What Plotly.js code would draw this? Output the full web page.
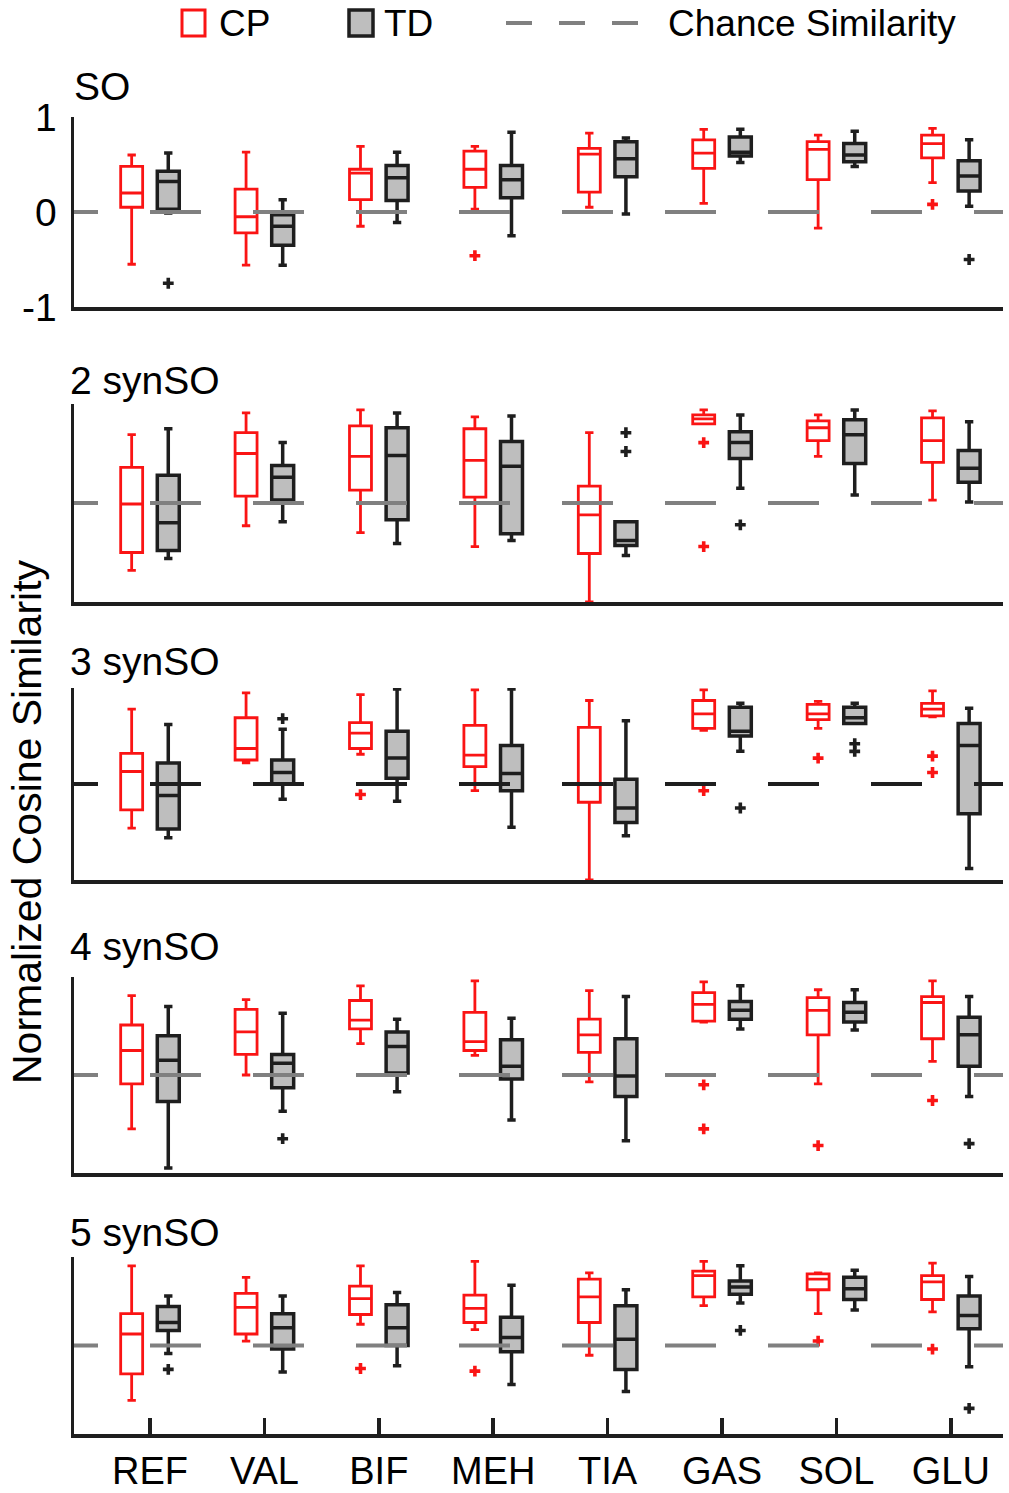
<!DOCTYPE html>
<html>
<head>
<meta charset="utf-8">
<script src="https://cdn.plot.ly/plotly-3.0.1.min.js"></script>
<style>
  html, body { margin: 0; padding: 0; background: #fff; }
  #chart { width: 1009px; height: 1493px; }
</style>
</head>
<body>
<div id="chart"></div>
<script>
// categories and panel names
const muscles = ['REF', 'VAL', 'BIF', 'MEH', 'TIA', 'GAS', 'SOL', 'GLU'];
const panelTitles = ['SO', '2 synSO', '3 synSO', '4 synSO', '5 synSO'];
const chanceLevel = 0;

// box stats per panel, rows: lower whisker, q1, median, q3, upper whisker
const cpSO = [
    [-0.55, -0.56, -0.15, 0.03, 0.05, 0.09, -0.17, 0.31],
    [0.05, -0.22, 0.13, 0.26, 0.21, 0.46, 0.34, 0.57],
    [0.20, -0.05, 0.41, 0.45, 0.61, 0.62, 0.66, 0.72],
    [0.48, 0.24, 0.45, 0.64, 0.67, 0.76, 0.74, 0.81],
    [0.60, 0.63, 0.69, 0.69, 0.83, 0.87, 0.81, 0.88]
];
const tdSO = [
    [-0.01, -0.56, -0.11, -0.25, -0.02, 0.52, 0.48, 0.06],
    [0.03, -0.35, 0.12, 0.15, 0.37, 0.59, 0.53, 0.22],
    [0.32, -0.15, 0.36, 0.34, 0.56, 0.63, 0.60, 0.38],
    [0.43, -0.03, 0.49, 0.49, 0.74, 0.79, 0.72, 0.54],
    [0.62, 0.13, 0.63, 0.84, 0.78, 0.87, 0.85, 0.76]
];
const cpSyn2 = [
    [-0.68, -0.23, -0.30, -0.44, -1.00, 0.80, 0.47, 0.03],
    [-0.50, 0.07, 0.13, 0.06, -0.51, 0.80, 0.63, 0.41],
    [-0.01, 0.50, 0.47, 0.43, -0.12, 0.85, 0.76, 0.63],
    [0.36, 0.71, 0.78, 0.75, 0.17, 0.89, 0.83, 0.86],
    [0.69, 0.91, 0.94, 0.87, 0.71, 0.94, 0.89, 0.93]
];
const tdSyn2 = [
    [-0.56, -0.19, -0.41, -0.38, -0.53, 0.15, 0.08, 0.01],
    [-0.48, 0.03, -0.17, -0.31, -0.43, 0.45, 0.40, 0.21],
    [-0.20, 0.26, 0.48, 0.37, -0.38, 0.61, 0.69, 0.35],
    [0.28, 0.38, 0.76, 0.62, -0.19, 0.72, 0.84, 0.53],
    [0.75, 0.61, 0.91, 0.88, -0.19, 0.89, 0.94, 0.82]
];
const cpSyn3 = [
    [-0.46, 0.22, 0.31, -0.07, -1.00, 0.56, 0.58, 0.70],
    [-0.27, 0.25, 0.37, 0.18, -0.19, 0.58, 0.67, 0.71],
    [0.13, 0.37, 0.53, 0.30, 0.00, 0.73, 0.73, 0.78],
    [0.32, 0.69, 0.64, 0.61, 0.59, 0.87, 0.83, 0.84],
    [0.78, 0.95, 0.93, 0.98, 0.87, 0.98, 0.86, 0.97]
];
const tdSyn3 = [
    [-0.56, -0.16, -0.18, -0.45, -0.54, 0.34, 0.63, -0.88],
    [-0.47, 0.00, 0.06, -0.07, -0.40, 0.50, 0.63, -0.31],
    [-0.12, 0.12, 0.27, 0.11, -0.25, 0.55, 0.69, 0.40],
    [0.22, 0.25, 0.55, 0.40, 0.05, 0.80, 0.80, 0.63],
    [0.62, 0.57, 0.99, 0.99, 0.66, 0.84, 0.84, 0.79]
];
const cpSyn4 = [
    [-0.55, 0.00, 0.32, 0.20, -0.07, 0.54, -0.09, 0.14],
    [-0.09, 0.21, 0.47, 0.25, 0.23, 0.55, 0.41, 0.37],
    [0.25, 0.44, 0.56, 0.34, 0.41, 0.72, 0.66, 0.74],
    [0.51, 0.67, 0.76, 0.64, 0.57, 0.84, 0.79, 0.80],
    [0.81, 0.77, 0.91, 0.96, 0.86, 0.95, 0.87, 0.96]
];
const tdSyn4 = [
    [-0.95, -0.37, -0.17, -0.46, -0.67, 0.47, 0.46, -0.22],
    [-0.27, -0.13, 0.02, -0.04, -0.22, 0.57, 0.54, 0.09],
    [0.15, 0.12, 0.29, 0.09, -0.01, 0.66, 0.64, 0.41],
    [0.40, 0.21, 0.44, 0.36, 0.37, 0.75, 0.74, 0.59],
    [0.70, 0.63, 0.57, 0.58, 0.80, 0.91, 0.87, 0.80]
];
const cpSyn5 = [
    [-0.62, 0.05, 0.24, 0.18, -0.11, 0.45, 0.36, 0.38],
    [-0.32, 0.13, 0.35, 0.26, 0.26, 0.55, 0.63, 0.52],
    [0.13, 0.43, 0.53, 0.42, 0.55, 0.79, 0.75, 0.72],
    [0.36, 0.59, 0.67, 0.57, 0.75, 0.84, 0.81, 0.79],
    [0.90, 0.77, 0.90, 0.95, 0.82, 0.95, 0.82, 0.93]
];
const tdSyn5 = [
    [-0.09, -0.30, -0.23, -0.44, -0.52, 0.48, 0.40, -0.24],
    [0.17, -0.04, 0.00, -0.07, -0.27, 0.58, 0.52, 0.19],
    [0.26, 0.20, 0.20, 0.09, 0.07, 0.66, 0.64, 0.34],
    [0.44, 0.36, 0.46, 0.32, 0.45, 0.73, 0.77, 0.56],
    [0.56, 0.56, 0.60, 0.68, 0.63, 0.90, 0.85, 0.78]
];

// outliers as [muscle index, value]
const cpSO_out = [[3, -0.46], [7, 0.08]];
const tdSO_out = [[0, -0.75], [7, -0.50]];
const cpSyn2_out = [[5, 0.61], [5, -0.44]];
const tdSyn2_out = [[4, 0.71], [4, 0.52], [5, -0.22]];
const cpSyn3_out = [[2, -0.11], [5, -0.07], [6, 0.27], [7, 0.29], [7, 0.12]];
const tdSyn3_out = [[1, 0.68], [5, -0.25], [6, 0.42], [6, 0.34]];
const cpSyn4_out = [[5, -0.10], [5, -0.55], [6, -0.72], [7, -0.26]];
const tdSyn4_out = [[1, -0.65], [7, -0.70]];
const cpSyn5_out = [[2, -0.26], [3, -0.29], [6, 0.05], [7, -0.04]];
const tdSyn5_out = [[0, -0.27], [5, 0.17], [7, -0.71]];

const cpPanels = [cpSO, cpSyn2, cpSyn3, cpSyn4, cpSyn5];
const tdPanels = [tdSO, tdSyn2, tdSyn3, tdSyn4, tdSyn5];
const cpOut = [cpSO_out, cpSyn2_out, cpSyn3_out, cpSyn4_out, cpSyn5_out];
const tdOut = [tdSO_out, tdSyn2_out, tdSyn3_out, tdSyn4_out, tdSyn5_out];

// page geometry (pixels)
const W = 1009, H = 1493;
const px = v => v / W;
const py = v => 1 - v / H;
const plotLeft = 74, plotRight = 1003;
const panelPx = [[117, 307], [404, 602], [688, 880], [977, 1173], [1257, 1434]];
const titlePx = [86, 380, 661, 946, 1232];
const xRange = [-0.664, 7.456];
const offset = 0.16;
const boxW = 0.192;

const RED = 'rgb(250,20,20)';
const DARK = '#1e1e1e';
const GREY = '#bebebe';
const CHANCE = '#808080';
const FONT = 'Liberation Sans, Arial, sans-serif';

let traces = [];
let layout = {
    width: W,
    height: H,
    margin: {l: 0, r: 0, t: 0, b: 0},
    paper_bgcolor: '#fff',
    plot_bgcolor: 'rgba(0,0,0,0)',
    showlegend: false,
    font: {family: FONT, size: 39, color: '#000'},
    annotations: [],
    shapes: []
};

function boxTrace(stats, side, color, fill, lw, n) {
    return {
        type: 'box',
        x: muscles.map((m, i) => i + side),
        lowerfence: stats[0],
        q1: stats[1],
        median: stats[2],
        q3: stats[3],
        upperfence: stats[4],
        width: boxW,
        whiskerwidth: 0.38,
        boxpoints: false,
        fillcolor: fill,
        line: {color: color, width: lw},
        xaxis: 'x' + n,
        yaxis: 'y' + n,
        hoverinfo: 'skip'
    };
}

function outlierTrace(list, side, color, n) {
    return {
        type: 'scatter',
        mode: 'markers',
        x: list.map(o => o[0] + side),
        y: list.map(o => o[1]),
        marker: {symbol: 'cross', size: 9, color: color},
        xaxis: 'x' + n,
        yaxis: 'y' + n,
        cliponaxis: false,
        hoverinfo: 'skip'
    };
}

for (let p = 0; p < 5; p++) {
    let n = p === 0 ? '' : String(p + 1);
    let isLast = p === 4;

    traces.push(boxTrace(cpPanels[p], -offset, RED, '#fff', 2.8, n));
    traces.push(boxTrace(tdPanels[p], offset, DARK, GREY, 3.5, n));
    traces.push(outlierTrace(cpOut[p], -offset, RED, n));
    traces.push(outlierTrace(tdOut[p], offset, DARK, n));

    // chance similarity, dashed across the panel (black in the 3 synSO panel)
    traces.push({
        type: 'scatter',
        mode: 'lines',
        x: [-0.9, xRange[1]],
        y: [chanceLevel, chanceLevel],
        line: {color: p === 2 ? DARK : CHANCE, width: 4, dash: '51px,52px'},
        xaxis: 'x' + n,
        yaxis: 'y' + n,
        hoverinfo: 'skip'
    });

    let top = panelPx[p][0], bottom = panelPx[p][1];
    layout['xaxis' + n] = {
        domain: [px(plotLeft), px(plotRight)],
        range: xRange,
        anchor: 'y' + n,
        showgrid: false,
        zeroline: false,
        showline: true,
        linecolor: DARK,
        linewidth: 4,
        tickvals: muscles.map((m, i) => i),
        ticktext: muscles,
        ticks: isLast ? 'inside' : '',
        ticklen: 16,
        tickwidth: 3.5,
        tickcolor: DARK,
        showticklabels: isLast,
        ticklabelstandoff: 0,
        tickfont: {family: FONT, size: 38, color: '#000'},
        fixedrange: true
    };
    layout['yaxis' + n] = {
        domain: [py(bottom), py(top)],
        range: [-1, 1],
        anchor: 'x' + n,
        showgrid: false,
        zeroline: false,
        showline: true,
        linecolor: DARK,
        linewidth: 3.5,
        tickvals: [-1, 0, 1],
        ticktext: ['-1', '0', '1'],
        ticks: 'inside',
        ticklen: 14,
        tickwidth: 3.5,
        tickcolor: DARK,
        showticklabels: p === 0,
        ticklabelstandoff: 6,
        tickfont: {family: FONT, size: 39, color: '#000'},
        layer: 'below traces',
        fixedrange: true
    };

    layout.annotations.push({
        text: panelTitles[p],
        xref: 'paper', yref: 'paper',
        x: px(p === 0 ? 72 : 68), y: py(titlePx[p]),
        xanchor: 'left', yanchor: 'middle',
        showarrow: false,
        font: {family: FONT, size: 39, color: '#000'}
    });
}

// y axis title
layout.annotations.push({
    text: 'Normalized Cosine Similarity',
    xref: 'paper', yref: 'paper',
    x: px(27), y: py(822),
    xanchor: 'center', yanchor: 'middle',
    textangle: -90,
    showarrow: false,
    font: {family: FONT, size: 41, color: '#000'}
});

// legend
const legendY = 23;
layout.shapes.push({
    type: 'rect', xref: 'paper', yref: 'paper',
    x0: px(182), x1: px(205), y0: py(legendY + 13), y1: py(legendY - 13),
    line: {color: RED, width: 3}, fillcolor: '#fff'
});
layout.shapes.push({
    type: 'rect', xref: 'paper', yref: 'paper',
    x0: px(349), x1: px(373), y0: py(legendY + 13), y1: py(legendY - 13),
    line: {color: DARK, width: 3.5}, fillcolor: GREY
});
layout.shapes.push({
    type: 'line', xref: 'paper', yref: 'paper',
    x0: px(506), x1: px(638), y0: py(legendY), y1: py(legendY),
    line: {color: CHANCE, width: 4, dash: '26px,27px'}
});
const legendText = [['CP', 217], ['TD', 382], ['Chance Similarity', 666]];
legendText.forEach(t => {
    layout.annotations.push({
        text: t[0],
        xref: 'paper', yref: 'paper',
        x: px(t[1]), y: py(legendY),
        xanchor: 'left', yanchor: 'middle',
        showarrow: false,
        font: {family: FONT, size: 37, color: '#000'}
    });
});

Plotly.newPlot('chart', traces, layout, {displayModeBar: false, staticPlot: true});
</script>
</body>
</html>
